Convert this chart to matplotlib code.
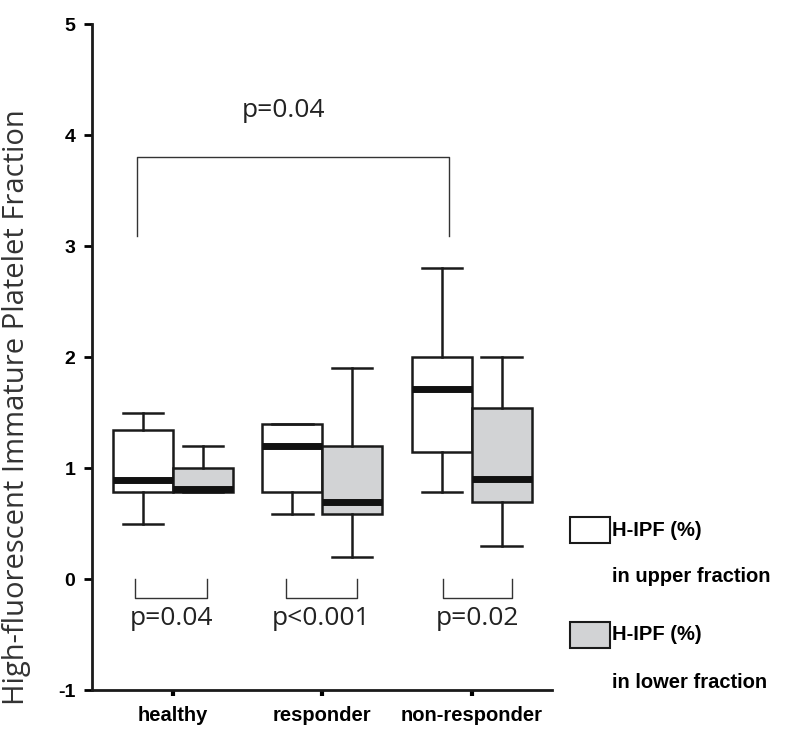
import matplotlib
matplotlib.use('Agg')
import matplotlib.pyplot as plt
from matplotlib.patches import Rectangle

# groups and box statistics
groups = ['healthy', 'responder', 'non-responder']

upper_whislo = [0.50, 0.59, 0.79]
upper_q1 = [0.79, 0.79, 1.15]
upper_med = [0.89, 1.20, 1.71]
upper_q3 = [1.34, 1.40, 2.00]
upper_whishi = [1.50, 1.40, 2.80]

lower_whislo = [0.79, 0.20, 0.30]
lower_q1 = [0.79, 0.59, 0.70]
lower_med = [0.81, 0.70, 0.90]
lower_q3 = [1.00, 1.20, 1.54]
lower_whishi = [1.20, 1.90, 2.00]

pair_pvals = ['p=0.04', 'p<0.001', 'p=0.02']
overall_pval = 'p=0.04'

GRAY = '#d2d3d5'


def stats(lo, q1, med, q3, hi):
    return [dict(whislo=a, q1=b, med=c, q3=d, whishi=e, fliers=[])
            for a, b, c, d, e in zip(lo, q1, med, q3, hi)]


fig = plt.figure(figsize=(7.87, 7.32), dpi=100)
ax = fig.add_axes([0.117, 0.057, 0.584, 0.910])

pos = list(range(len(groups)))
w = 0.40
common = dict(widths=w, capwidths=0.27, patch_artist=True, showfliers=False,
              whiskerprops=dict(color='#1a1a1a', lw=1.8),
              capprops=dict(color='#1a1a1a', lw=1.8),
              medianprops=dict(color='#111111', lw=5, solid_capstyle='butt'))

ax.bxp(stats(upper_whislo, upper_q1, upper_med, upper_q3, upper_whishi),
       positions=[p - w / 2 for p in pos],
       boxprops=dict(facecolor='white', edgecolor='#1a1a1a', lw=1.8), **common)
ax.bxp(stats(lower_whislo, lower_q1, lower_med, lower_q3, lower_whishi),
       positions=[p + w / 2 for p in pos],
       boxprops=dict(facecolor=GRAY, edgecolor='#1a1a1a', lw=1.8), **common)

# significance brackets
bk = '#333333'
ptxt = dict(ha='center', va='center', fontsize=19, family='Open Sans',
            color='#222222')
ax.plot([-0.24, -0.24, 1.85, 1.85], [3.09, 3.80, 3.80, 3.09], color=bk, lw=1)
ax.text(0.74, 4.22, overall_pval, **ptxt)

bx = [(-0.25, 0.23), (-0.24, 0.23), (-0.19, 0.27)]
for p, (a, b), t in zip(pos, bx, pair_pvals):
    ax.plot([p + a, p + a, p + b, p + b], [0.0, -0.17, -0.17, 0.0], color=bk, lw=1)
    ax.text(p + (a + b) / 2, -0.35, t, **ptxt)

ax.set_xlim(-0.54, 2.535)
ax.set_ylim(-1, 5)
ax.set_xticks(pos)
ax.set_xticklabels(groups, fontsize=14.5, fontweight='bold', family='Liberation Sans')
ax.set_yticks(range(-1, 6))
ax.set_yticklabels([str(v) for v in range(-1, 6)], fontsize=14,
                   fontweight='bold', family='Liberation Sans')
ax.tick_params(axis='y', length=6, width=2, pad=6)
ax.tick_params(axis='x', length=4, width=3, pad=7)
for s in ['top', 'right']:
    ax.spines[s].set_visible(False)
for s in ['left', 'bottom']:
    ax.spines[s].set_linewidth(2)
    ax.spines[s].set_color('#1a1a1a')

ax.set_ylabel('High-fluorescent Immature Platelet Fraction', fontsize=21,
              family='Open Sans', color='#333333', va='center')
ax.yaxis.set_label_coords(-0.164, 0.425)

# legend drawn by hand outside the axes
def legend_entry(y_box, face, line2):
    fig.patches.append(Rectangle((570 / 787, 1 - y_box / 732), 40 / 787, 26 / 732,
                                 transform=fig.transFigure, facecolor=face,
                                 edgecolor='#1a1a1a', lw=1.5))
    fig.text(612 / 787, 1 - (y_box - 13) / 732, 'H-IPF (%)', fontsize=14.5,
             fontweight='bold', family='Liberation Sans', va='center')
    fig.text(612 / 787, 1 - (y_box + 34) / 732, line2, fontsize=14.5,
             fontweight='bold', family='Liberation Sans', va='center')

legend_entry(543, 'white', 'in upper fraction')
legend_entry(648, GRAY, 'in lower fraction')

fig.savefig('out.png', dpi=100)
